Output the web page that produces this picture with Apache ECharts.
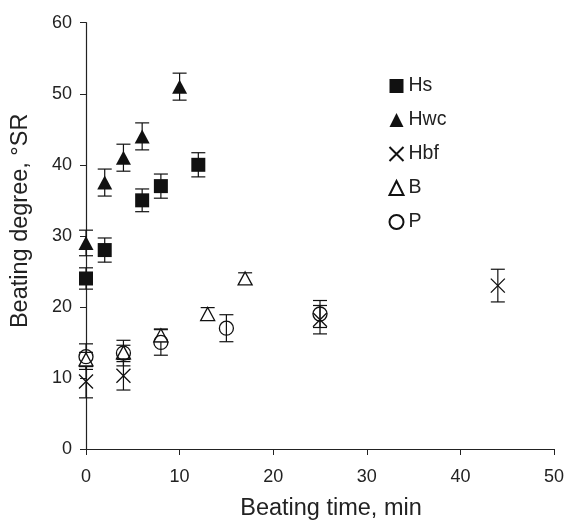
<!DOCTYPE html>
<html>
<head>
<meta charset="utf-8">
<script src="https://cdn.jsdelivr.net/npm/echarts@6/dist/echarts.min.js"></script>
<style>
html,body{margin:0;padding:0;background:#fff;}
#chart{width:567px;height:526px;}
</style>
</head>
<body>
<div id="chart"></div>
<script>
// ---- data ----
var seriesNames = ['Hs', 'Hwc', 'Hbf', 'B', 'P'];
var hsTime = [0, 2, 6, 8, 12];
var hsVal  = [24, 28, 35, 37, 40];
var hsErr  = [1.5, 1.7, 1.6, 1.7, 1.7];
var hwcTime = [0, 2, 4, 6, 10];
var hwcVal  = [29, 37.5, 41, 44, 51];
var hwcErr  = [1.8, 1.9, 1.9, 1.9, 1.9];
var hbfTime = [0, 4, 25, 44];
var hbfVal  = [9.5, 10.3, 18.2, 23];
var hbfErr  = [2.3, 2, 2, 2.3];
var bTime = [0, 4, 8, 13, 17];
var bVal  = [12.6, 13.6, 16, 19, 24];
var bErr  = [1, 1, 0.9, 0.9, 0.8];
var pTime = [0, 4, 8, 15, 25];
var pVal  = [13, 13.5, 15, 17, 19];
var pErr  = [1.8, 1.8, 1.8, 1.9, 1.9];
var xTicks = [0, 10, 20, 30, 40, 50];
var yTicks = [0, 10, 20, 30, 40, 50, 60];

var INK = '#111';
var crossPath = 'path://M0,0L10,10M10,0L0,10';

function pts(t, v) { return t.map(function (x, i) { return [x, v[i]]; }); }
function errs(t, v, e) { return t.map(function (x, i) { return [x, v[i] - e[i], v[i] + e[i]]; }); }

function errSeries(data) {
  return {
    type: 'custom',
    silent: true,
    z: 1,
    data: data,
    renderItem: function (params, api) {
      var lo = api.coord([api.value(0), api.value(1)]);
      var hi = api.coord([api.value(0), api.value(2)]);
      var w = 7;
      var st = { stroke: INK, lineWidth: 1.2 };
      return {
        type: 'group',
        children: [
          { type: 'line', shape: { x1: lo[0], y1: lo[1], x2: hi[0], y2: hi[1] }, style: st },
          { type: 'line', shape: { x1: lo[0] - w, y1: lo[1], x2: lo[0] + w, y2: lo[1] }, style: st },
          { type: 'line', shape: { x1: hi[0] - w, y1: hi[1], x2: hi[0] + w, y2: hi[1] }, style: st }
        ]
      };
    }
  };
}

var chart = echarts.init(document.getElementById('chart'));
chart.setOption({
  animation: false,
  backgroundColor: '#fff',
  textStyle: { fontFamily: 'Liberation Sans, Arial, sans-serif' },
  grid: { left: 86, right: 10.3, top: 22.7, bottom: 72 },
  legend: {
    data: seriesNames,
    orient: 'vertical',
    left: 387,
    top: 76,
    padding: 0,
    itemWidth: 14,
    itemHeight: 14,
    itemGap: 14,
    textStyle: { fontSize: 19.5, color: '#222', fontFamily: 'Liberation Sans, Arial, sans-serif' }
  },
  xAxis: {
    type: 'value', min: xTicks[0], max: xTicks[xTicks.length - 1], interval: 10,
    name: 'Beating time, min', nameLocation: 'middle', nameGap: 48,
    nameTextStyle: { fontSize: 23.5, color: '#222', padding: [0, 0, 0, 22] },
    axisLine: { lineStyle: { color: '#222', width: 1.2 } },
    axisTick: { inside: false, length: 6, lineStyle: { color: '#222' } },
    axisLabel: { fontSize: 18, color: '#222', margin: 19 },
    splitLine: { show: false }
  },
  yAxis: {
    type: 'value', min: yTicks[0], max: yTicks[yTicks.length - 1], interval: 10,
    name: 'Beating degree, °SR', nameLocation: 'middle', nameGap: 53,
    nameTextStyle: { fontSize: 23.5, color: '#222', padding: [0, 0, 0, 30] },
    axisLine: { lineStyle: { color: '#222', width: 1.2 } },
    axisTick: { inside: false, length: 6, lineStyle: { color: '#222' } },
    axisLabel: { fontSize: 18, color: '#222', margin: 14 },
    splitLine: { show: false }
  },
  series: [
    errSeries(errs(hsTime, hsVal, hsErr)),
    errSeries(errs(hwcTime, hwcVal, hwcErr)),
    errSeries(errs(hbfTime, hbfVal, hbfErr)),
    errSeries(errs(bTime, bVal, bErr)),
    errSeries(errs(pTime, pVal, pErr)),
    { name: 'Hs', type: 'scatter', z: 3, clip: false, data: pts(hsTime, hsVal),
      symbol: 'rect', symbolSize: 14, itemStyle: { color: INK, opacity: 1 } },
    { name: 'Hwc', type: 'scatter', z: 3, clip: false, data: pts(hwcTime, hwcVal),
      symbol: 'triangle', symbolSize: [15, 14], itemStyle: { color: INK, opacity: 1 } },
    { name: 'Hbf', type: 'scatter', z: 5, clip: false, data: pts(hbfTime, hbfVal),
      symbol: crossPath, symbolSize: 14,
      itemStyle: { color: 'none', borderColor: INK, borderWidth: 1.3, opacity: 1 } },
    { name: 'B', type: 'scatter', z: 3, clip: false, data: pts(bTime, bVal),
      symbol: 'triangle', symbolSize: [14, 13],
      itemStyle: { color: '#fff', borderColor: INK, borderWidth: 1.3, opacity: 1 } },
    { name: 'P', type: 'scatter', z: 4, clip: false, data: pts(pTime, pVal),
      symbol: 'circle', symbolSize: 14,
      itemStyle: { color: 'none', borderColor: INK, borderWidth: 1.3, opacity: 1 } }
  ]
});
</script>
</body>
</html>
